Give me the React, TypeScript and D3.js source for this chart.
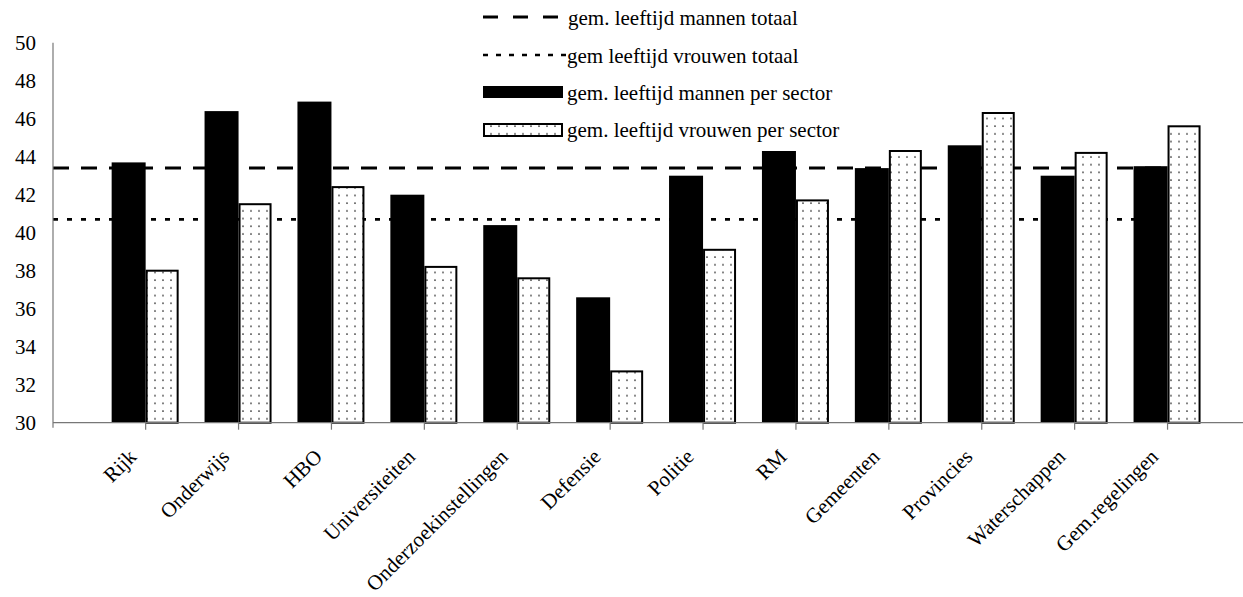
import React, { useEffect, useRef } from "react";
import * as d3 from "d3";

const categories = [
  "Rijk",
  "Onderwijs",
  "HBO",
  "Universiteiten",
  "Onderzoekinstellingen",
  "Defensie",
  "Politie",
  "RM",
  "Gemeenten",
  "Provincies",
  "Waterschappen",
  "Gem.regelingen",
];

// gem. leeftijd per sector
const mannen = [43.7, 46.4, 46.9, 42.0, 40.4, 36.6, 43.0, 44.3, 43.4, 44.6, 43.0, 43.5];
const vrouwen = [38.0, 41.5, 42.4, 38.2, 37.6, 32.7, 39.1, 41.7, 44.3, 46.3, 44.2, 45.6];

// totaal-lijnen
const mannenTotaal = 43.4;
const vrouwenTotaal = 40.7;

const yTicks = [30, 32, 34, 36, 38, 40, 42, 44, 46, 48, 50];

const legendLabels = [
  "gem. leeftijd mannen totaal",
  "gem leeftijd vrouwen totaal",
  "gem. leeftijd mannen per sector",
  "gem. leeftijd vrouwen per sector",
];

const FONT = "'Liberation Serif', 'Times New Roman', serif";

const App: React.FC = () => {
  const svgRef = useRef<SVGSVGElement | null>(null);

  useEffect(() => {
    if (!svgRef.current) return;
    const width = 1243;
    const height = 597;
    const axisX = 53;

    d3.select(svgRef.current).selectAll("*").remove();
    const svg = d3.select(svgRef.current).attr("width", width).attr("height", height);

    // dotted fill
    const defs = svg.append("defs");
    const pat = defs
      .append("pattern")
      .attr("id", "dots")
      .attr("patternUnits", "userSpaceOnUse")
      .attr("width", 8)
      .attr("height", 7.7);
    pat.append("rect").attr("width", 8).attr("height", 7.7).attr("fill", "#fff");
    pat.append("circle").attr("cx", 3).attr("cy", 3).attr("r", 0.9).attr("fill", "#333");

    const y = d3.scaleLinear().domain([30, 50]).range([422.7, 42.7]);

    const x = d3
      .scaleBand<string>()
      .domain(categories)
      .range([99.2, 99.2 + 12 * 92.9])
      .paddingInner(0)
      .paddingOuter(0);
    const center = (c: string) => x(c)! + x.bandwidth() / 2;

    const xLine = d3
      .scalePoint<string>()
      .domain(categories)
      .range([axisX, center(categories[categories.length - 1])]);

    // total lines (behind the bars)
    const line = d3
      .line<number>()
      .x((_, i) => xLine(categories[i])!)
      .y((d) => y(d));

    svg
      .append("path")
      .datum(categories.map(() => mannenTotaal))
      .attr("d", line)
      .attr("fill", "none")
      .attr("stroke", "#000")
      .attr("stroke-width", 3)
      .attr("stroke-dasharray", "16,12");

    svg
      .append("path")
      .datum(categories.map(() => vrouwenTotaal))
      .attr("d", line)
      .attr("fill", "none")
      .attr("stroke", "#000")
      .attr("stroke-width", 2.6)
      .attr("stroke-dasharray", "5,9");

    // bars
    const base = y(30);
    svg
      .selectAll(".bar-m")
      .data(categories)
      .enter()
      .append("rect")
      .attr("class", "bar-m")
      .attr("x", (d) => center(d) - 34)
      .attr("y", (_, i) => y(mannen[i]))
      .attr("width", 34)
      .attr("height", (_, i) => base - y(mannen[i]))
      .attr("fill", "#000");

    svg
      .selectAll(".bar-v")
      .data(categories)
      .enter()
      .append("rect")
      .attr("class", "bar-v")
      .attr("x", (d) => center(d) + 1)
      .attr("y", (_, i) => y(vrouwen[i]))
      .attr("width", 31)
      .attr("height", (_, i) => base - y(vrouwen[i]))
      .attr("fill", "url(#dots)")
      .attr("stroke", "#000")
      .attr("stroke-width", 2);

    // y axis
    const yAxis = svg
      .append("g")
      .attr("transform", `translate(${axisX},0)`)
      .call(
        d3
          .axisLeft(y)
          .tickValues(yTicks)
          .tickSizeInner(0)
          .tickSizeOuter(0)
          .tickPadding(17)
          .tickFormat(d3.format("d"))
      );
    yAxis.select(".domain").remove();
    yAxis
      .selectAll("text")
      .attr("font-family", FONT)
      .attr("font-size", 21)
      .attr("fill", "#000");
    svg
      .append("line")
      .attr("x1", axisX)
      .attr("x2", axisX)
      .attr("y1", y(50))
      .attr("y2", base + 5)
      .attr("stroke", "#777")
      .attr("stroke-width", 1.2);

    // x axis
    const xAxis = svg
      .append("g")
      .attr("transform", `translate(0,${base})`)
      .call(d3.axisBottom(x).tickSizeInner(7).tickSizeOuter(0).tickFormat(() => ""));
    xAxis.select(".domain").remove();
    xAxis.selectAll("line").attr("stroke", "#777").attr("stroke-width", 1.2);
    svg
      .append("line")
      .attr("x1", axisX)
      .attr("x2", width)
      .attr("y1", base)
      .attr("y2", base)
      .attr("stroke", "#777")
      .attr("stroke-width", 1.2);

    svg
      .selectAll(".xlab")
      .data(categories)
      .enter()
      .append("text")
      .attr("class", "xlab")
      .attr("transform", (d) => `translate(${center(d) - 8},458) rotate(-45)`)
      .attr("text-anchor", "end")
      .attr("font-family", FONT)
      .attr("font-size", 21)
      .attr("fill", "#000")
      .text((d) => d);

    // legend
    const lx = 483;
    const legend = svg.append("g");
    legend
      .append("line")
      .attr("x1", lx)
      .attr("x2", lx + 75)
      .attr("y1", 17)
      .attr("y2", 17)
      .attr("stroke", "#000")
      .attr("stroke-width", 3)
      .attr("stroke-dasharray", "15,15");
    legend
      .append("line")
      .attr("x1", lx)
      .attr("x2", lx + 83)
      .attr("y1", 55)
      .attr("y2", 55)
      .attr("stroke", "#000")
      .attr("stroke-width", 2.6)
      .attr("stroke-dasharray", "5,8");
    legend
      .append("rect")
      .attr("x", lx)
      .attr("y", 86)
      .attr("width", 80)
      .attr("height", 12)
      .attr("fill", "#000");
    legend
      .append("rect")
      .attr("x", lx + 1)
      .attr("y", 124)
      .attr("width", 78)
      .attr("height", 12)
      .attr("fill", "url(#dots)")
      .attr("stroke", "#000")
      .attr("stroke-width", 2);

    legend
      .selectAll("text")
      .data(legendLabels)
      .enter()
      .append("text")
      .attr("x", (_, i) => (i === 0 ? 568 : 567))
      .attr("y", (_, i) => [25, 63, 100, 137][i])
      .attr("font-family", FONT)
      .attr("font-size", 21)
      .attr("fill", "#000")
      .text((d) => d);
  }, []);

  return (
    <svg
      ref={svgRef}
      style={{ position: "absolute", left: 0, top: 0, background: "#fff" }}
    ></svg>
  );
};

export default App;
